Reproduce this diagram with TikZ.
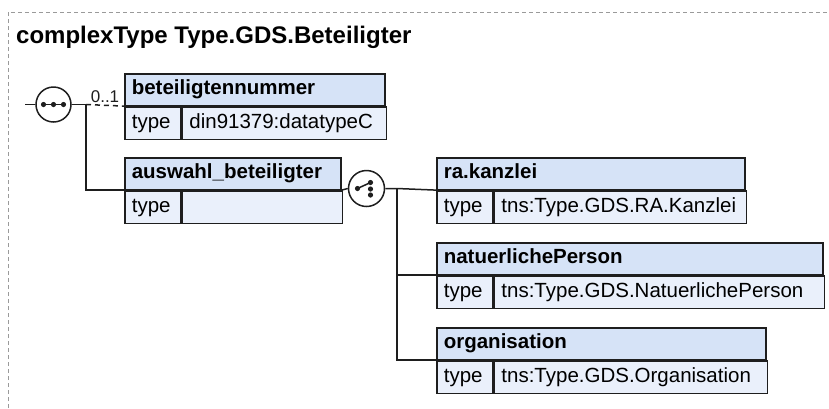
\documentclass[tikz,border=0pt]{standalone}
\usepackage{fontspec}
\setmainfont{Liberation Sans}
\usepackage{xcolor}
\definecolor{lineDark}{HTML}{1E1E1E}
\definecolor{headBg}{HTML}{D6E3F7}
\definecolor{typeBg}{HTML}{EAF0FB}
\definecolor{frameGray}{HTML}{9A9A9A}
\usepackage{tikz}
\usetikzlibrary{positioning,calc}
\tikzset{%
  elemHead/.style={%
    rectangle,
    draw=lineDark,
    fill=headBg,
    line width=1.6pt,
    anchor=north west,
    minimum height=31.5pt,
    inner xsep=7pt,
    inner ysep=0pt,
    text height=15pt,
    text depth=5pt,
    align=left,
    font=\bfseries\fontsize{20.5}{24}\selectfont
  },
  typeKey/.style={%
    rectangle,
    draw=lineDark,
    fill=typeBg,
    line width=1.6pt,
    minimum height=32.5pt,
    inner xsep=7pt,
    inner ysep=0pt,
    text height=15pt,
    text depth=5pt,
    text width=42pt,
    align=left,
    font=\fontsize{20.5}{24}\selectfont
  },
  typeVal/.style={%
    typeKey,
    text width=#1
  },
  connLine/.style={%
    line width=1.5pt,
    color=lineDark
  },
  compCircle/.style={%
    circle,
    draw=lineDark,
    fill=white,
    line width=1.5pt,
    minimum size=35pt,
    inner sep=0pt
  },
  titleText/.style={%
    font=\bfseries\fontsize{24}{28}\selectfont,
    inner sep=0pt,
    anchor=base west
  },
  occLabel/.style={%
    font=\fontsize{17}{20}\selectfont,
    inner sep=1.5pt
  }
}

\begin{document}
\begin{tikzpicture}[x=1pt,y=-1pt]
            \useasboundingbox (0,0) rectangle (829,408);
            \draw[frameGray, line width=0.9pt, dash pattern=on 4pt off 3pt] (8,408) -- (8,12) -- (829,12);
            \node[titleText] (title) at (16,43) {complexType Type.GDS.Beteiligter};

            % sequence with its two children
            \node[compCircle] (seq) at (53.5,104.5) {};
            \foreach \dx in {-10,0,10}
              \fill[lineDark] ([xshift=\dx pt]seq.center) circle (2.6pt);
            \draw[connLine] ([xshift=-12pt]seq.center) -- ([xshift=12pt]seq.center);
            \coordinate (seqIn) at (25,104.5);
            \coordinate (seqJoin) at (86,104.5);

            \node[elemHead, text width=246pt] (nummerHead) at (124,73) {beteiligtennummer};
            \node[typeKey, below=0pt of nummerHead.south west, anchor=north west] (nummerKey) {type};
            \node[typeVal=190pt, right=0pt of nummerKey] (nummerVal) {din91379:datatypeC};

            \node[elemHead, text width=202pt] (auswahlHead) at (124,157) {auswahl\_beteiligter};
            \node[typeKey, below=0pt of auswahlHead.south west, anchor=north west] (auswahlKey) {type};
            \node[typeVal=146pt, right=0pt of auswahlKey] (auswahlVal) {};

            \draw[connLine] (seqIn) -- (seq.west);
            \draw[connLine] (seq.east) -- (seqJoin);
            \draw[connLine, dash pattern=on 5pt off 4pt] (seqJoin) -- node[occLabel, above] {0..1} (nummerHead.south west);
            \draw[connLine] (seqJoin) -- (seqJoin |- auswahlHead.south west) -- (auswahlHead.south west);

            % choice with its three children
            \node[compCircle, minimum size=36pt] (choice) at (366.5,188.5) {};
            \fill[lineDark] ([xshift=-9pt]choice.center) circle (2.6pt);
            \foreach \dy in {-6,0.5,6.5}
              \fill[lineDark] ([xshift=4pt,yshift=-\dy pt]choice.center) circle (2.6pt);
            \draw[connLine] ([xshift=-9pt]choice.center) -- ([xshift=4pt,yshift=6pt]choice.center);
            \coordinate (choiceJoin) at (397,188.5);

            \node[elemHead, text width=294pt] (kanzleiHead) at (436,157) {ra.kanzlei};
            \node[typeKey, below=0pt of kanzleiHead.south west, anchor=north west] (kanzleiKey) {type};
            \node[typeVal=238pt, right=0pt of kanzleiKey] (kanzleiVal) {tns:Type.GDS.RA.Kanzlei};

            \node[elemHead, text width=372pt] (personHead) at (436,242) {natuerlichePerson};
            \node[typeKey, below=0pt of personHead.south west, anchor=north west] (personKey) {type};
            \node[typeVal=316pt, right=0pt of personKey] (personVal) {tns:Type.GDS.NatuerlichePerson};

            \node[elemHead, text width=315pt] (orgHead) at (436,327) {organisation};
            \node[typeKey, below=0pt of orgHead.south west, anchor=north west] (orgKey) {type};
            \node[typeVal=259pt, right=0pt of orgKey] (orgVal) {tns:Type.GDS.Organisation};

            \draw[connLine] (auswahlHead.south east) -- (choice.west);
            \draw[connLine] (choice.east) -- (choiceJoin) -- (kanzleiHead.south west);
            \draw[connLine] (choiceJoin) -- (choiceJoin |- orgHead.south west) -- (orgHead.south west);
            \draw[connLine] (choiceJoin |- personHead.south west) -- (personHead.south west);
        \end{tikzpicture}
\end{document}
